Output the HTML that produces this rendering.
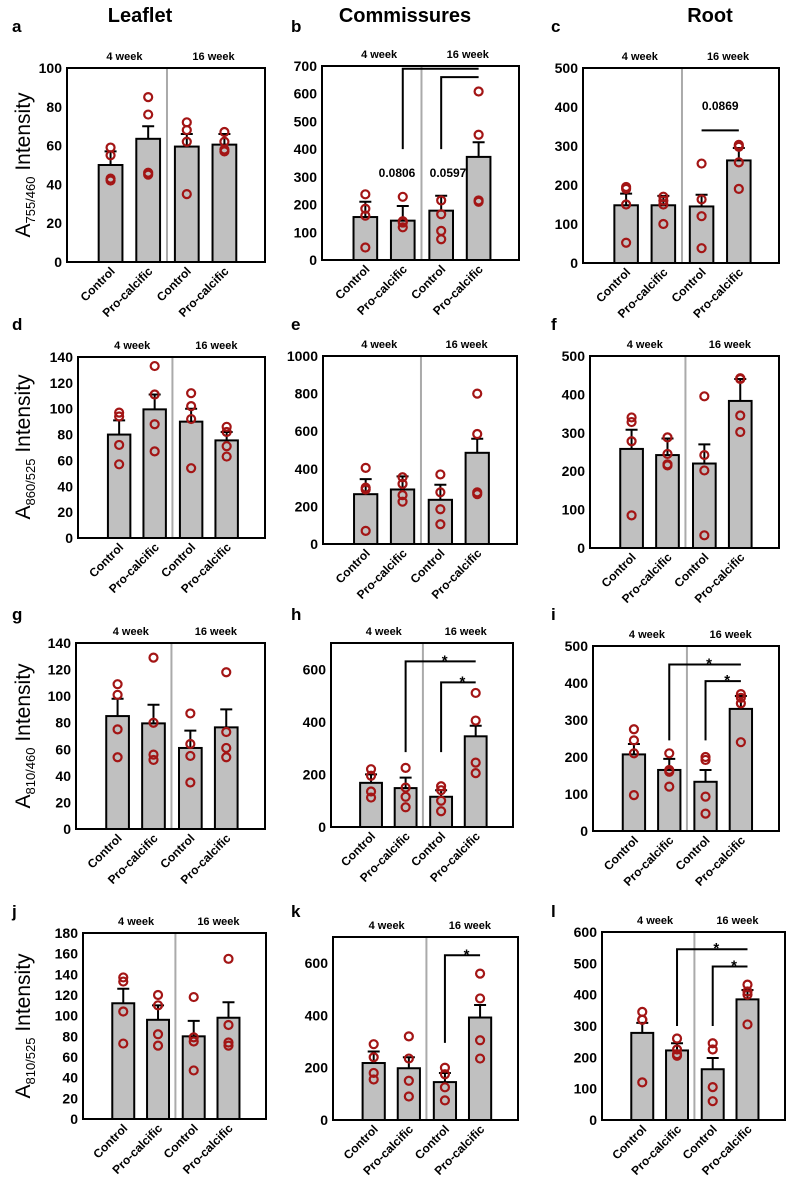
<!DOCTYPE html>
<html><head><meta charset="utf-8"><style>
html,body{margin:0;padding:0;background:#fff;}
svg{display:block;font-family:"Liberation Sans",Arial,sans-serif;}
</style></head><body>
<svg id="fig" width="797" height="1190" viewBox="0 0 797 1190"></svg>
<script>
// ---- data ----
const groups = ["Control","Pro-calcific","Control","Pro-calcific"];
const meansA=[50,63.5,59.5,60.5], errA=[57,70,66,66];
const ptsA=[[59,55,43,42],[85,76,46,45],[72,68,62,35],[67,62,58,57]];
const meansB=[155,142,178,372], errB=[210,195,232,425];
const ptsB=[[237,185,160,45],[228,140,118,135],[215,165,105,75],[608,452,215,210]];
const meansC=[148,148,145,263], errC=[178,172,175,295];
const ptsC=[[195,190,150,52],[170,160,150,100],[255,163,120,38],[303,298,258,190]];
const meansD=[80,99.5,90,75.5], errD=[91,111,100,82];
const ptsD=[[97,94,72,57],[133,111,88,67],[112,102,92,54],[86,82,71,63]];
const meansE=[265,290,235,485], errE=[345,360,315,560];
const ptsE=[[405,300,290,70],[355,320,260,225],[370,275,185,105],[800,585,275,265]];
const meansF=[258,242,220,383], errF=[308,285,270,440];
const ptsF=[[340,328,278,85],[288,245,218,215],[395,242,202,33],[442,345,302,440]];
const meansG=[85,79.5,61,76.5], errG=[98,93.5,74,90];
const ptsG=[[109,101,75,54],[129,80,56,52],[87,64,55,35],[118,73,61,54]];
const meansH=[168,148,115,345], errH=[200,188,140,385];
const ptsH=[[220,195,135,112],[225,150,115,75],[155,140,100,60],[510,405,245,205]];
const meansI=[207,165,133,330], errI=[235,195,165,365];
const ptsI=[[275,245,210,97],[210,165,160,120],[200,192,93,47],[370,360,345,240]];
const meansJ=[112,96,80,98], errJ=[126,110,95,113];
const ptsJ=[[137,133,104,73],[120,110,82,71],[118,79,75,47],[155,91,74,71]];
const meansK=[218,198,145,392], errK=[262,240,180,440];
const ptsK=[[290,240,180,155],[320,235,150,90],[200,175,125,75],[560,465,305,235]];
const meansL=[278,222,162,385], errL=[310,245,198,415];
const ptsL=[[345,320,320,120],[260,225,210,205],[245,225,105,60],[432,410,400,305]];
const ticksA=[0,20,40,60,80,100], ticksB=[0,100,200,300,400,500,600,700], ticksC=[0,100,200,300,400,500];
const ticksD=[0,20,40,60,80,100,120,140], ticksE=[0,200,400,600,800,1000], ticksF=[0,100,200,300,400,500];
const ticksG=[0,20,40,60,80,100,120,140], ticksH=[0,200,400,600], ticksI=[0,100,200,300,400,500];
const ticksJ=[0,20,40,60,80,100,120,140,160,180], ticksK=[0,200,400,600], ticksL=[0,100,200,300,400,500,600];
// brackets: [fromBar, baseValue, topValue, label]
const brB=[[1,400,690,""],[2,400,660,""]];
const brH=[[1,285,630,"*"],[2,285,550,"*"]];
const brI=[[1,245,450,"*"],[2,245,405,"*"]];
const brK=[[2,295,630,"*"]];
const brL=[[1,300,545,"*"],[2,300,490,"*"]];

// ---- layout ----
const NS="http://www.w3.org/2000/svg";
const svg=document.getElementById('fig');
function el(tag,attrs,parent,text){const e=document.createElementNS(NS,tag);for(const k in attrs)e.setAttribute(k,attrs[k]);if(text!==undefined)e.textContent=text;(parent||svg).appendChild(e);return e;}

const panels=[
 {id:"a",L:67,R:265,T:68,B:262,max:100,m:meansA,e:errA,p:ptsA,t:ticksA,br:[],lx:12,ly:32},
 {id:"b",L:322,R:519,T:66,B:260,max:700,m:meansB,e:errB,p:ptsB,t:ticksB,br:brB,lx:291,ly:32},
 {id:"c",L:583,R:779,T:68,B:263,max:500,m:meansC,e:errC,p:ptsC,t:ticksC,br:[],lx:551,ly:32},
 {id:"d",L:78,R:265,T:357,B:538,max:140,m:meansD,e:errD,p:ptsD,t:ticksD,br:[],lx:12,ly:330},
 {id:"e",L:323,R:517,T:356,B:544,max:1000,m:meansE,e:errE,p:ptsE,t:ticksE,br:[],lx:291,ly:330},
 {id:"f",L:590,R:779,T:356,B:548,max:500,m:meansF,e:errF,p:ptsF,t:ticksF,br:[],lx:551,ly:330},
 {id:"g",L:76,R:265,T:643,B:829,max:140,m:meansG,e:errG,p:ptsG,t:ticksG,br:[],lx:12,ly:620},
 {id:"h",L:331,R:513,T:643,B:827,max:700,m:meansH,e:errH,p:ptsH,t:ticksH,br:brH,lx:291,ly:620},
 {id:"i",L:593,R:779,T:646,B:831,max:500,m:meansI,e:errI,p:ptsI,t:ticksI,br:brI,lx:551,ly:620},
 {id:"j",L:83,R:266,T:933,B:1119,max:180,m:meansJ,e:errJ,p:ptsJ,t:ticksJ,br:[],lx:12,ly:917},
 {id:"k",L:333,R:518,T:937,B:1120,max:700,m:meansK,e:errK,p:ptsK,t:ticksK,br:brK,lx:291,ly:917},
 {id:"l",L:602,R:785,T:932,B:1120,max:600,m:meansL,e:errL,p:ptsL,t:ticksL,br:brL,lx:551,ly:917}
];
const fr=[0.22,0.41,0.605,0.795];

// column headers
[["Leaflet",140],["Commissures",405],["Root",710]].forEach(function(h){
  const t=el('text',{x:h[1],y:22,'text-anchor':'middle','font-size':20,'font-weight':'bold'},svg,h[0]);
  
  
});
// y-axis titles
[["755/460",165],["860/525",447],["810/460",736],["810/525",1026]].forEach(function(a){
  const t=el('text',{x:0,y:0,'text-anchor':'middle','font-size':21,transform:'translate(30,'+a[1]+') rotate(-90)'});
  
  
  el('tspan',{},t,'A');
  el('tspan',{'font-size':13,dy:5},t,a[0]);
  el('tspan',{dy:-5},t,' Intensity');
});

panels.forEach(function(P){
  const g=el('g',{});
  
  
  const W=P.R-P.L;
  const y=function(v){return P.B-(v/P.max)*(P.B-P.T);};
  const x=function(i){return P.L+W*fr[i];};
  const bw=W*0.12;
  const lt=el('text',{x:P.lx,y:P.ly,'font-size':17,'font-weight':'bold'},g,P.id);
  
  
  const g1=el('text',{x:P.L+W*0.29,y:P.T-8,'text-anchor':'middle','font-size':11,'font-weight':'bold'},g,'4 week');
  
  
  const g2=el('text',{x:P.L+W*0.74,y:P.T-8,'text-anchor':'middle','font-size':11,'font-weight':'bold'},g,'16 week');
  
  
  const dv=el('line',{x1:P.L+W*0.505,x2:P.L+W*0.505,y1:P.T,y2:P.B,stroke:'#aaa','stroke-width':2},g);
  
  
  P.t.forEach(function(v){
    const tl=el('text',{x:P.L-5,y:y(v)+5,'text-anchor':'end','font-size':14,'font-weight':'bold'},g,String(v));
    
    
  });
  P.m.forEach(function(v,i){
    const r=el('rect',{x:x(i)-bw/2,y:y(v),width:bw,height:P.B-y(v),fill:'#c0c0c0',stroke:'#000','stroke-width':2},g);
    
    
    const eb=el('path',{d:'M'+x(i)+' '+y(v)+'V'+y(P.e[i])+'M'+(x(i)-6)+' '+y(P.e[i])+'H'+(x(i)+6),stroke:'#000','stroke-width':2,fill:'none'},g);
    
    
    P.p[i].forEach(function(pv){
      const c=el('circle',{cx:x(i),cy:y(pv),r:4,fill:'none',stroke:'#a31515','stroke-width':2.2},g);
      
      
    });
    const xl=el('text',{x:0,y:0,'text-anchor':'end','font-size':12,'font-weight':'bold',transform:'translate('+(x(i)+5)+','+(P.B+10)+') rotate(-45)'},g,groups[i]);
    
    
  });
  const fm=el('rect',{x:P.L,y:P.T,width:W,height:P.B-P.T,fill:'none',stroke:'#000','stroke-width':2},g);
  
  
  P.br.forEach(function(b){
    const x0=x(b[0]),x1=x(3);
    const bp=el('path',{d:'M'+x0+' '+y(b[1])+'V'+y(b[2])+'H'+x1,stroke:'#000','stroke-width':2,fill:'none'},g);
    
    
    if(b[3]){
      const st=el('text',{x:(x0+x1)/2+4,y:y(b[2])+4,'text-anchor':'middle','font-size':15,'font-weight':'bold'},g,b[3]);
      
      
    }
  });
  if(P.id==='b'){
    const p1=el('text',{x:397,y:177,'text-anchor':'middle','font-size':12,'font-weight':'bold'},g,'0.0806');
    
    
    const p2=el('text',{x:448,y:177,'text-anchor':'middle','font-size':12,'font-weight':'bold'},g,'0.0597');
    
    
  }
  if(P.id==='c'){
    const ln=el('line',{x1:x(2),x2:x(3),y1:y(340),y2:y(340),stroke:'#000','stroke-width':2},g);
    
    
    const p3=el('text',{x:(x(2)+x(3))/2,y:y(392),'text-anchor':'middle','font-size':12,'font-weight':'bold'},g,'0.0869');
    
    
  }
});
</script>
</body></html>
